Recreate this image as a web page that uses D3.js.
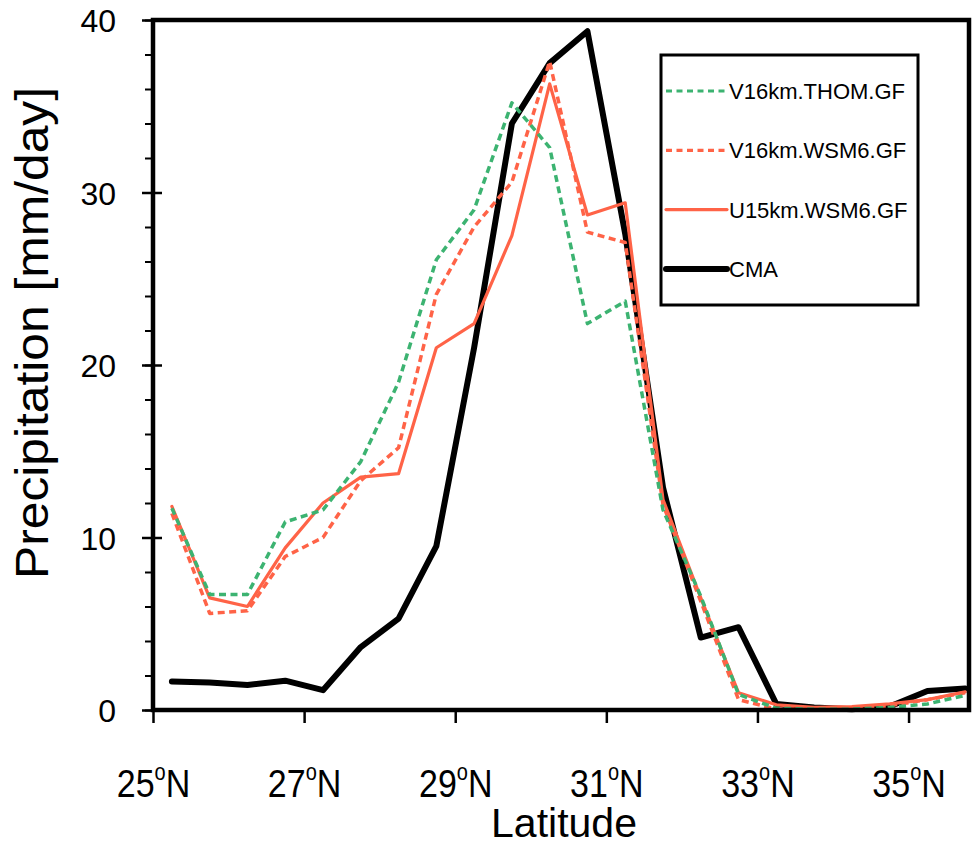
<!DOCTYPE html>
<html>
<head>
<meta charset="utf-8">
<script src="https://cdn.jsdelivr.net/npm/d3@7"></script>
<style>
  body { margin: 0; background: #fff; }
  text { font-family: "Liberation Sans", Arial, Helvetica, sans-serif; fill: #000; }
</style>
</head>
<body>
<div id="chart"></div>
<script>
// Latitude bins (degrees N)
const lat = [25.25, 25.75, 26.25, 26.75, 27.25, 27.75, 28.25, 28.75, 29.25, 29.75, 30.25,
             30.75, 31.25, 31.75, 32.25, 32.75, 33.25, 33.75, 34.25, 34.75, 35.25, 35.75];

// Precipitation [mm/day] for each run
const thomGF = [11.7, 6.7, 6.7, 10.9, 11.6, 14.4, 19.0, 26.1, 29.0, 35.2, 32.6,
                22.4, 23.7, 11.6, 6.6, 0.9, 0.1, 0.05, 0.05, 0.15, 0.35, 0.85];
const wsm6GF = [11.4, 5.6, 5.75, 8.9, 10.0, 13.3, 15.2, 24.1, 28.0, 30.6, 37.6,
                27.7, 27.1, 11.9, 6.3, 0.6, 0.05, 0.05, 0.1, 0.25, 0.6, 1.0];
const u15GF = [11.8, 6.5, 6.0, 9.4, 12.0, 13.5, 13.7, 21.0, 22.4, 27.5, 36.3,
               28.7, 29.4, 12.2, 6.5, 1.0, 0.3, 0.15, 0.2, 0.35, 0.6, 1.05];
const cma = [1.65, 1.6, 1.45, 1.7, 1.15, 3.65, 5.3, 9.5, 21.0, 34.0, 37.5,
             39.35, 27.6, 12.9, 4.2, 4.8, 0.35, 0.15, 0.05, 0.2, 1.1, 1.25];

const seriesNames = ["V16km.THOM.GF", "V16km.WSM6.GF", "U15km.WSM6.GF", "CMA"];
const xTicks = [25, 27, 29, 31, 33, 35];
const yTicks = [0, 10, 20, 30, 40];

const W = 973, H = 846;
const margin = {top: 20, right: 4, bottom: 136, left: 153};
const width = W - margin.left - margin.right;
const height = H - margin.top - margin.bottom;

const svg = d3.select("#chart").append("svg")
    .attr("width", W)
    .attr("height", H);

const g = svg.append("g")
    .attr("transform", `translate(${margin.left},${margin.top})`);

const x = d3.scaleLinear().domain([25, 35.8]).range([0, width]);
const y = d3.scaleLinear().domain([0, 40]).range([height, 0]);

// drawing order: observations underneath
const series = [
    {name: "CMA", values: cma, color: "#000000", w: 6, dash: null},
    {name: "U15km.WSM6.GF", values: u15GF, color: "#FF6347", w: 3.2, dash: null},
    {name: "V16km.WSM6.GF", values: wsm6GF, color: "#FF6347", w: 3.5, dash: "7,4.5"},
    {name: "V16km.THOM.GF", values: thomGF, color: "#3CB371", w: 3.5, dash: "7,4.5"}
];

const line = d3.line()
    .x(d => x(d[0]))
    .y(d => y(d[1]));

g.selectAll(".series")
    .data(series)
    .enter().append("path")
    .attr("class", "series")
    .attr("fill", "none")
    .attr("stroke", d => d.color)
    .attr("stroke-width", d => d.w)
    .attr("stroke-linejoin", "round")
    .attr("stroke-linecap", d => d.dash ? "butt" : "round")
    .attr("stroke-dasharray", d => d.dash)
    .attr("d", d => line(lat.map((v, i) => [v, d.values[i]])));

// frame
g.append("rect")
    .attr("x", 0).attr("y", 0)
    .attr("width", width).attr("height", height)
    .attr("fill", "none")
    .attr("stroke", "#000")
    .attr("stroke-width", 4.5);

// y axis: minor ticks every 2, majors every 10
const yMinor = g.append("g")
    .call(d3.axisLeft(y).tickValues(d3.range(0, 41, 2)).tickSize(8).tickFormat(""));
yMinor.select(".domain").remove();
yMinor.selectAll("line").attr("stroke-width", 2);

const yAxis = g.append("g")
    .call(d3.axisLeft(y).tickValues(yTicks).tickSize(11).tickPadding(26));
yAxis.select(".domain").remove();
yAxis.selectAll("line").attr("x1", 9).attr("stroke-width", 2.5);
yAxis.selectAll("text")
    .style("font-size", "32px")
    .attr("dy", "0.36em");

// x axis
const xAxis = g.append("g")
    .attr("transform", `translate(0,${height})`)
    .call(d3.axisBottom(x).tickValues(xTicks).tickSize(13).tickFormat(""));
xAxis.select(".domain").remove();
xAxis.selectAll("line").attr("stroke-width", 2.5);

const xLab = xAxis.selectAll(".tick").append("text")
    .attr("y", 76)
    .attr("text-anchor", "middle")
    .attr("transform", "scale(1,1.15)")
    .style("font-size", "34px");
xLab.append("tspan").text(d => d);
xLab.append("tspan").attr("dy", -15).style("font-size", "20px").text("o");
xLab.append("tspan").attr("dy", 15).text("N");

// axis titles
svg.append("text")
    .attr("x", 564)
    .attr("y", 837)
    .attr("text-anchor", "middle")
    .style("font-size", "41px")
    .text("Latitude");

svg.append("text")
    .attr("transform", `translate(48,${333}) rotate(-90)`)
    .attr("text-anchor", "middle")
    .attr("textLength", 492)
    .attr("lengthAdjust", "spacingAndGlyphs")
    .style("font-size", "46px")
    .text("Precipitation [mm/day]");

// legend
const legend = svg.append("g").attr("transform", "translate(661,55)");
legend.append("rect")
    .attr("width", 257).attr("height", 250)
    .attr("fill", "#fff")
    .attr("stroke", "#000")
    .attr("stroke-width", 3);

const legendItems = seriesNames.map(n => series.find(s => s.name === n));
const item = legend.selectAll(".legend")
    .data(legendItems)
    .enter().append("g")
    .attr("class", "legend")
    .attr("transform", (d, i) => `translate(0,${36 + i * 59.3})`);

item.append("line")
    .attr("x1", 5).attr("x2", 66)
    .attr("stroke", d => d.color)
    .attr("stroke-width", d => d.name === "CMA" ? 6 : 3.2)
    .attr("stroke-linecap", d => d.dash ? "butt" : "round")
    .attr("stroke-dasharray", d => d.dash ? "6,4.5" : null);

item.append("text")
    .attr("x", 68)
    .attr("dy", "0.36em")
    .style("font-size", "22px")
    .text(d => d.name);
</script>
</body>
</html>
